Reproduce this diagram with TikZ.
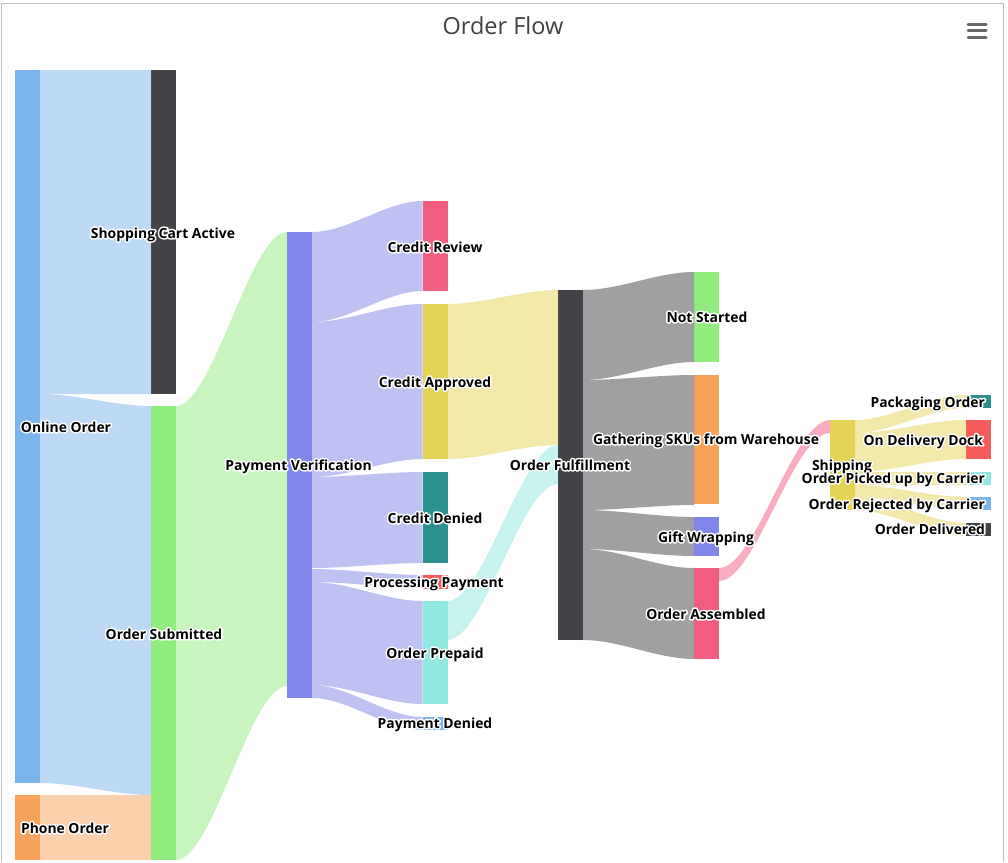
\documentclass[tikz,border=0pt]{standalone}
\usepackage{fontspec}
\setmainfont{Open Sans}
\newcommand{\haloed}[1]{\rlap{\special{pdf:code 1 Tr 3.2 w 1 1 1 RG 1 j}#1\special{pdf:code 0 Tr 1 w}}#1}
\definecolor{cblue}{HTML}{7CB5EC}
\definecolor{cdark}{HTML}{434348}
\definecolor{cgreen}{HTML}{90ED7D}
\definecolor{corange}{HTML}{F7A35C}
\definecolor{cpurple}{HTML}{8085E9}
\definecolor{cpink}{HTML}{F15C80}
\definecolor{cyellow}{HTML}{E4D354}
\definecolor{cteal}{HTML}{2B908F}
\definecolor{cred}{HTML}{F45B5B}
\definecolor{cmint}{HTML}{91E8E1}
\tikzset{
  x=1pt,y=-1pt,
  sankeynode/.style={rectangle,draw=none,inner sep=0pt,outer sep=0pt,anchor=north west,minimum width=25pt,fill=#1},
  flowlabel/.style={inner sep=0pt,outer sep=0pt,text=black,anchor=base,font=\fontsize{13.9}{16}\selectfont\bfseries},
  flowlabelr/.style={flowlabel,anchor=base east},
  frameline/.style={draw=black!25,line width=1pt},
  menubar/.style={draw=black!60,line width=3pt,line cap=round},
}
% \ribbon{from node}{offset at source}{to node}{offset at target}{width}{colour}
\newcommand{\ribbon}[6]{%
  \path (#1.north east) ++(0,#2) coordinate (ra);
  \path (#3.north west) ++(0,#4) coordinate (rb);
  \fill[#6,opacity=0.5] (ra) let \p1=(ra),\p2=(rb) in
     .. controls ({\x1+0.33*(\x2-\x1)},\y1) and ({\x2-0.33*(\x2-\x1)},\y2) .. (rb)
     -- ++(0,#5)
     .. controls ({\x2-0.33*(\x2-\x1)},{\y2-#5pt}) and ({\x1+0.33*(\x2-\x1)},{\y1-#5pt}) .. ($(ra)+(0,#5)$) -- cycle;
}
\usetikzlibrary{calc}
\begin{document}
\begin{tikzpicture}
\useasboundingbox (0,0) rectangle (1008,862);
\fill[white] (0,0) rectangle (1008,862);
% nodes
\node[sankeynode=cblue,minimum height=713pt] (online) at (15,70) {};
\node[sankeynode=corange,minimum height=65pt] (phone) at (15,795) {};
\node[sankeynode=cdark,minimum height=324pt] (cart) at (151,70) {};
\node[sankeynode=cgreen,minimum height=454pt] (submitted) at (151,406) {};
\node[sankeynode=cpurple,minimum height=466pt] (payver) at (287,232) {};
\node[sankeynode=cpink,minimum height=90pt] (review) at (422.5,201) {};
\node[sankeynode=cyellow,minimum height=155pt] (approved) at (422.5,304) {};
\node[sankeynode=cteal,minimum height=91pt] (denied) at (422.5,472) {};
\node[sankeynode=cred,minimum height=14pt] (processing) at (422.5,575) {};
\node[sankeynode=cmint,minimum height=103pt] (prepaid) at (422.5,601) {};
\node[sankeynode=cblue,minimum height=13pt] (paydenied) at (422.5,717) {};
\node[sankeynode=cdark,minimum height=350pt] (fulfil) at (558,290) {};
\node[sankeynode=cgreen,minimum height=90pt] (notstarted) at (694,272) {};
\node[sankeynode=corange,minimum height=129pt] (gathering) at (694,375) {};
\node[sankeynode=cpurple,minimum height=39pt] (gift) at (694,517) {};
\node[sankeynode=cpink,minimum height=91pt] (assembled) at (694,568) {};
\node[sankeynode=cyellow,minimum height=90pt] (shipping) at (830,420) {};
\node[sankeynode=cteal,minimum height=13pt] (packaging) at (966,395) {};
\node[sankeynode=cred,minimum height=39pt] (dock) at (966,420) {};
\node[sankeynode=cmint,minimum height=13pt] (picked) at (966,472) {};
\node[sankeynode=cblue,minimum height=13pt] (rejected) at (966,497) {};
\node[sankeynode=cdark,minimum height=13pt] (delivered) at (966,523) {};
% links
\ribbon{online}{0}{cart}{0}{324}{cblue}
\ribbon{online}{324}{submitted}{0}{389}{cblue}
\ribbon{phone}{0}{submitted}{389}{65}{corange}
\ribbon{submitted}{0}{payver}{0}{454}{cgreen}
\ribbon{payver}{0}{review}{0}{90}{cpurple}
\ribbon{payver}{90}{approved}{0}{155}{cpurple}
\ribbon{payver}{245}{denied}{0}{91}{cpurple}
\ribbon{payver}{337}{processing}{0}{13}{cpurple}
\ribbon{payver}{350}{prepaid}{0}{103}{cpurple}
\ribbon{payver}{453}{paydenied}{0}{13}{cpurple}
\ribbon{approved}{0}{fulfil}{0}{155}{cyellow}
\ribbon{prepaid}{0}{fulfil}{155}{39}{cmint}
\ribbon{fulfil}{0}{notstarted}{0}{90}{cdark}
\ribbon{fulfil}{90}{gathering}{0}{130}{cdark}
\ribbon{fulfil}{220}{gift}{0}{39}{cdark}
\ribbon{fulfil}{259}{assembled}{0}{91}{cdark}
\ribbon{assembled}{0}{shipping}{0}{13}{cpink}
\ribbon{shipping}{0}{packaging}{0}{13}{cyellow}
\ribbon{shipping}{13}{dock}{0}{39}{cyellow}
\ribbon{shipping}{52}{picked}{0}{13}{cyellow}
\ribbon{shipping}{65}{rejected}{0}{12}{cyellow}
\ribbon{shipping}{77}{delivered}{0}{13}{cyellow}
% labels
\node[flowlabel] (lonline) at (66,432) {\haloed{Online Order}};
\node[flowlabel] (lphone) at (65,833) {\haloed{Phone Order}};
\node[flowlabel] (lcart) at (163,238) {\haloed{Shopping Cart Active}};
\node[flowlabel] (lsubmitted) at (164,639) {\haloed{Order Submitted}};
\node[flowlabel] (lpayver) at (298.5,470) {\haloed{Payment Verification}};
\node[flowlabel] (lreview) at (435,252) {\haloed{Credit Review}};
\node[flowlabel] (lapproved) at (435,387) {\haloed{Credit Approved}};
\node[flowlabel] (ldenied) at (435,523) {\haloed{Credit Denied}};
\node[flowlabel] (lprocessing) at (434,587) {\haloed{Processing Payment}};
\node[flowlabel] (lprepaid) at (435,658) {\haloed{Order Prepaid}};
\node[flowlabel] (lpaydenied) at (435,728) {\haloed{Payment Denied}};
\node[flowlabel] (lfulfil) at (570,470) {\haloed{Order Fulfillment}};
\node[flowlabel] (lnotstarted) at (707,322) {\haloed{Not Started}};
\node[flowlabel] (lgathering) at (706,444) {\haloed{Gathering SKUs from Warehouse}};
\node[flowlabel] (lgift) at (706,542) {\haloed{Gift Wrapping}};
\node[flowlabel] (lassembled) at (706,619) {\haloed{Order Assembled}};
\node[flowlabel] (lshipping) at (842,470) {\haloed{Shipping}};
\node[flowlabelr] (lpackaging) at (985,407) {\haloed{Packaging Order}};
\node[flowlabelr] (ldock) at (983,445) {\haloed{On Delivery Dock}};
\node[flowlabelr] (lpicked) at (985,483) {\haloed{Order Picked up by Carrier}};
\node[flowlabelr] (lrejected) at (985,509) {\haloed{Order Rejected by Carrier}};
\node[flowlabelr] (ldelivered) at (985,534) {\haloed{Order Delivered}};
% title and frame
\node[text=black!75,font=\fontsize{23.5}{28}\selectfont] (title) at (503,26) {Order Flow};
\draw[frameline] (1.5,862) -- (1.5,3) -- (1003,3) -- (1003,862);
\draw[menubar] (968,24) -- (986,24);
\draw[menubar] (968,30.5) -- (986,30.5);
\draw[menubar] (968,37) -- (986,37);
\end{tikzpicture}
\end{document}
